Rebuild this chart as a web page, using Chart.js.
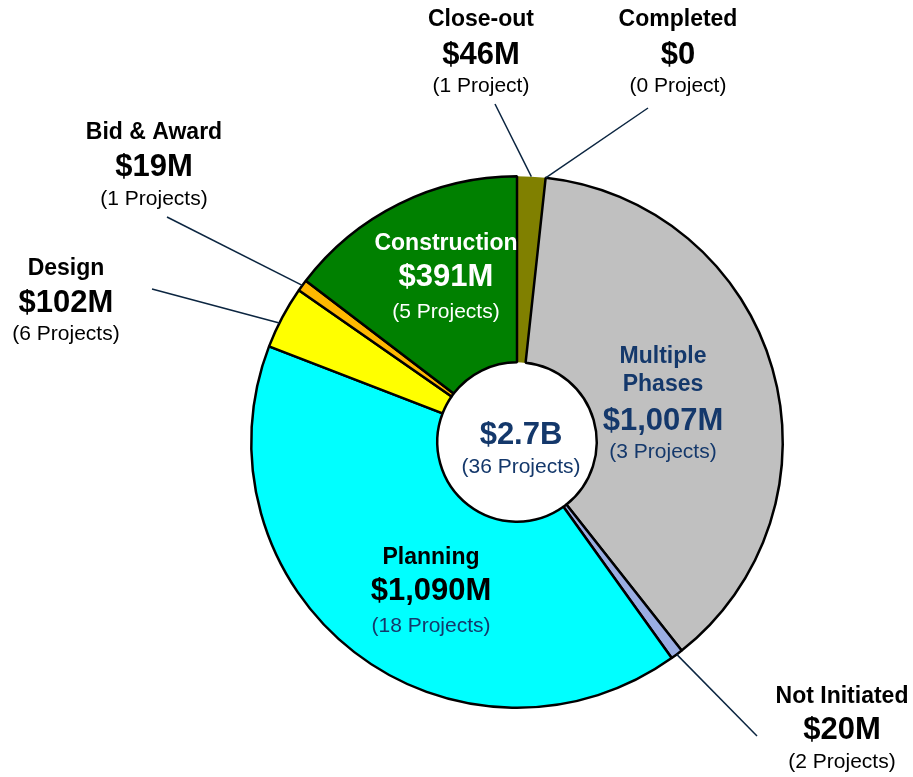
<!DOCTYPE html>
<html>
<head>
<meta charset="utf-8">
<script src="https://cdn.jsdelivr.net/npm/chart.js@4"></script>
<style>
  html, body { margin: 0; padding: 0; background: #fff; }
  #wrap { width: 913px; height: 777px; position: relative; }
</style>
</head>
<body>
<div id="wrap"><canvas id="phaseChart" width="913" height="777"></canvas></div>
<script>
// slices, clockwise from 12 o'clock
const phases = ['Close-out', 'Completed', 'Multiple Phases', 'Not Initiated', 'Planning', 'Design', 'Bid & Award', 'Construction'];
const amounts = [46, 0, 1007, 20, 1090, 102, 19, 391]; // $M
const projectCounts = [1, 0, 3, 2, 18, 6, 1, 5];
const valueLabels = ['$46M', '$0', '$1,007M', '$20M', '$1,090M', '$102M', '$19M', '$391M'];
const countLabels = ['(1 Project)', '(0 Project)', '(3 Projects)', '(2 Projects)', '(18 Projects)', '(6 Projects)', '(1 Projects)', '(5 Projects)'];
const totalLabel = '$2.7B';
const totalCountLabel = '(36 Projects)';

const sliceColors = ['#808000', '#808000', '#C0C0C0', '#9AADE2', '#00FFFF', '#FFFF00', '#FFB800', '#008000'];
const NAVY = '#14386B';
const FONT = '"Liberation Sans", Arial, sans-serif';

// where each label sits; leader = outer end of the leader line (null = label inside slice)
const labelLayout = [
    { x: 481, y: [20, 55, 86], colors: ['#000', '#000', '#000'], leader: [495, 104], frac: 0.5 },
    { x: 678, y: [20, 55, 86], colors: ['#000', '#000', '#000'], leader: [648, 108], frac: 0.5 },
    { x: 663, y: [357, 385, 421, 452], colors: [NAVY, NAVY, NAVY], leader: null },
    { x: 842, y: [697, 730, 762], colors: ['#000', '#000', '#000'], leader: [757, 736], frac: 0.5 },
    { x: 431, y: [558, 591, 626], colors: ['#000', '#000', NAVY], leader: null },
    { x: 66, y: [269, 303, 334], colors: ['#000', '#000', '#000'], leader: [152, 289], frac: 0.4 },
    { x: 154, y: [133, 167, 199], colors: ['#000', '#000', '#000'], leader: [167, 217], frac: 0.5 },
    { x: 446, y: [244, 277, 312], colors: ['#fff', '#fff', '#fff'], leader: null }
];

const labelPlugin = {
    id: 'phaseLabels',
    afterDatasetsDraw(chart) {
        const ctx = chart.ctx;
        const arcs = chart.getDatasetMeta(0).data;
        ctx.save();

        // leader lines
        ctx.strokeStyle = '#0B2540';
        ctx.lineWidth = 1.5;
        arcs.forEach((arc, i) => {
            const lay = labelLayout[i];
            if (!lay.leader) return;
            const p = arc.getProps(['x', 'y', 'startAngle', 'endAngle', 'outerRadius'], true);
            const a = p.startAngle + (p.endAngle - p.startAngle) * lay.frac;
            ctx.beginPath();
            ctx.moveTo(lay.leader[0], lay.leader[1]);
            ctx.lineTo(p.x + Math.cos(a) * p.outerRadius, p.y + Math.sin(a) * p.outerRadius);
            ctx.stroke();
        });

        // text
        ctx.textAlign = 'center';
        ctx.textBaseline = 'middle';
        phases.forEach((name, i) => {
            const lay = labelLayout[i];
            const titleLines = name === 'Multiple Phases' ? ['Multiple', 'Phases'] : [name];
            let row = 0;
            ctx.fillStyle = lay.colors[0];
            ctx.font = 'bold 23px ' + FONT;
            titleLines.forEach(t => { ctx.fillText(t, lay.x, lay.y[row++]); });
            ctx.fillStyle = lay.colors[1];
            ctx.font = 'bold 31px ' + FONT;
            ctx.fillText(valueLabels[i], lay.x, lay.y[row++]);
            ctx.fillStyle = lay.colors[2];
            ctx.font = '21px ' + FONT;
            ctx.fillText(countLabels[i], lay.x, lay.y[row++]);
        });

        // centre total
        const c = arcs[0];
        ctx.fillStyle = NAVY;
        ctx.font = 'bold 31px ' + FONT;
        ctx.fillText(totalLabel, c.x + 4, c.y - 7);
        ctx.font = '21px ' + FONT;
        ctx.fillText(totalCountLabel, c.x + 4, c.y + 25);
        ctx.restore();
    }
};

const ctx = document.getElementById('phaseChart').getContext('2d');
new Chart(ctx, {
    type: 'doughnut',
    data: {
        labels: phases,
        datasets: [{
            data: amounts,
            backgroundColor: sliceColors,
            borderColor: '#000',
            borderWidth: amounts.map((v, i) => i === 0 ? 0 : 2.5)
        }]
    },
    options: {
        responsive: false,
        animation: false,
        events: [],
        cutout: '30%',
        layout: { padding: { left: 250, right: 129, top: 175, bottom: 68 } },
        plugins: {
            legend: { display: false },
            tooltip: { enabled: false }
        }
    },
    plugins: [labelPlugin]
});
</script>
</body>
</html>
